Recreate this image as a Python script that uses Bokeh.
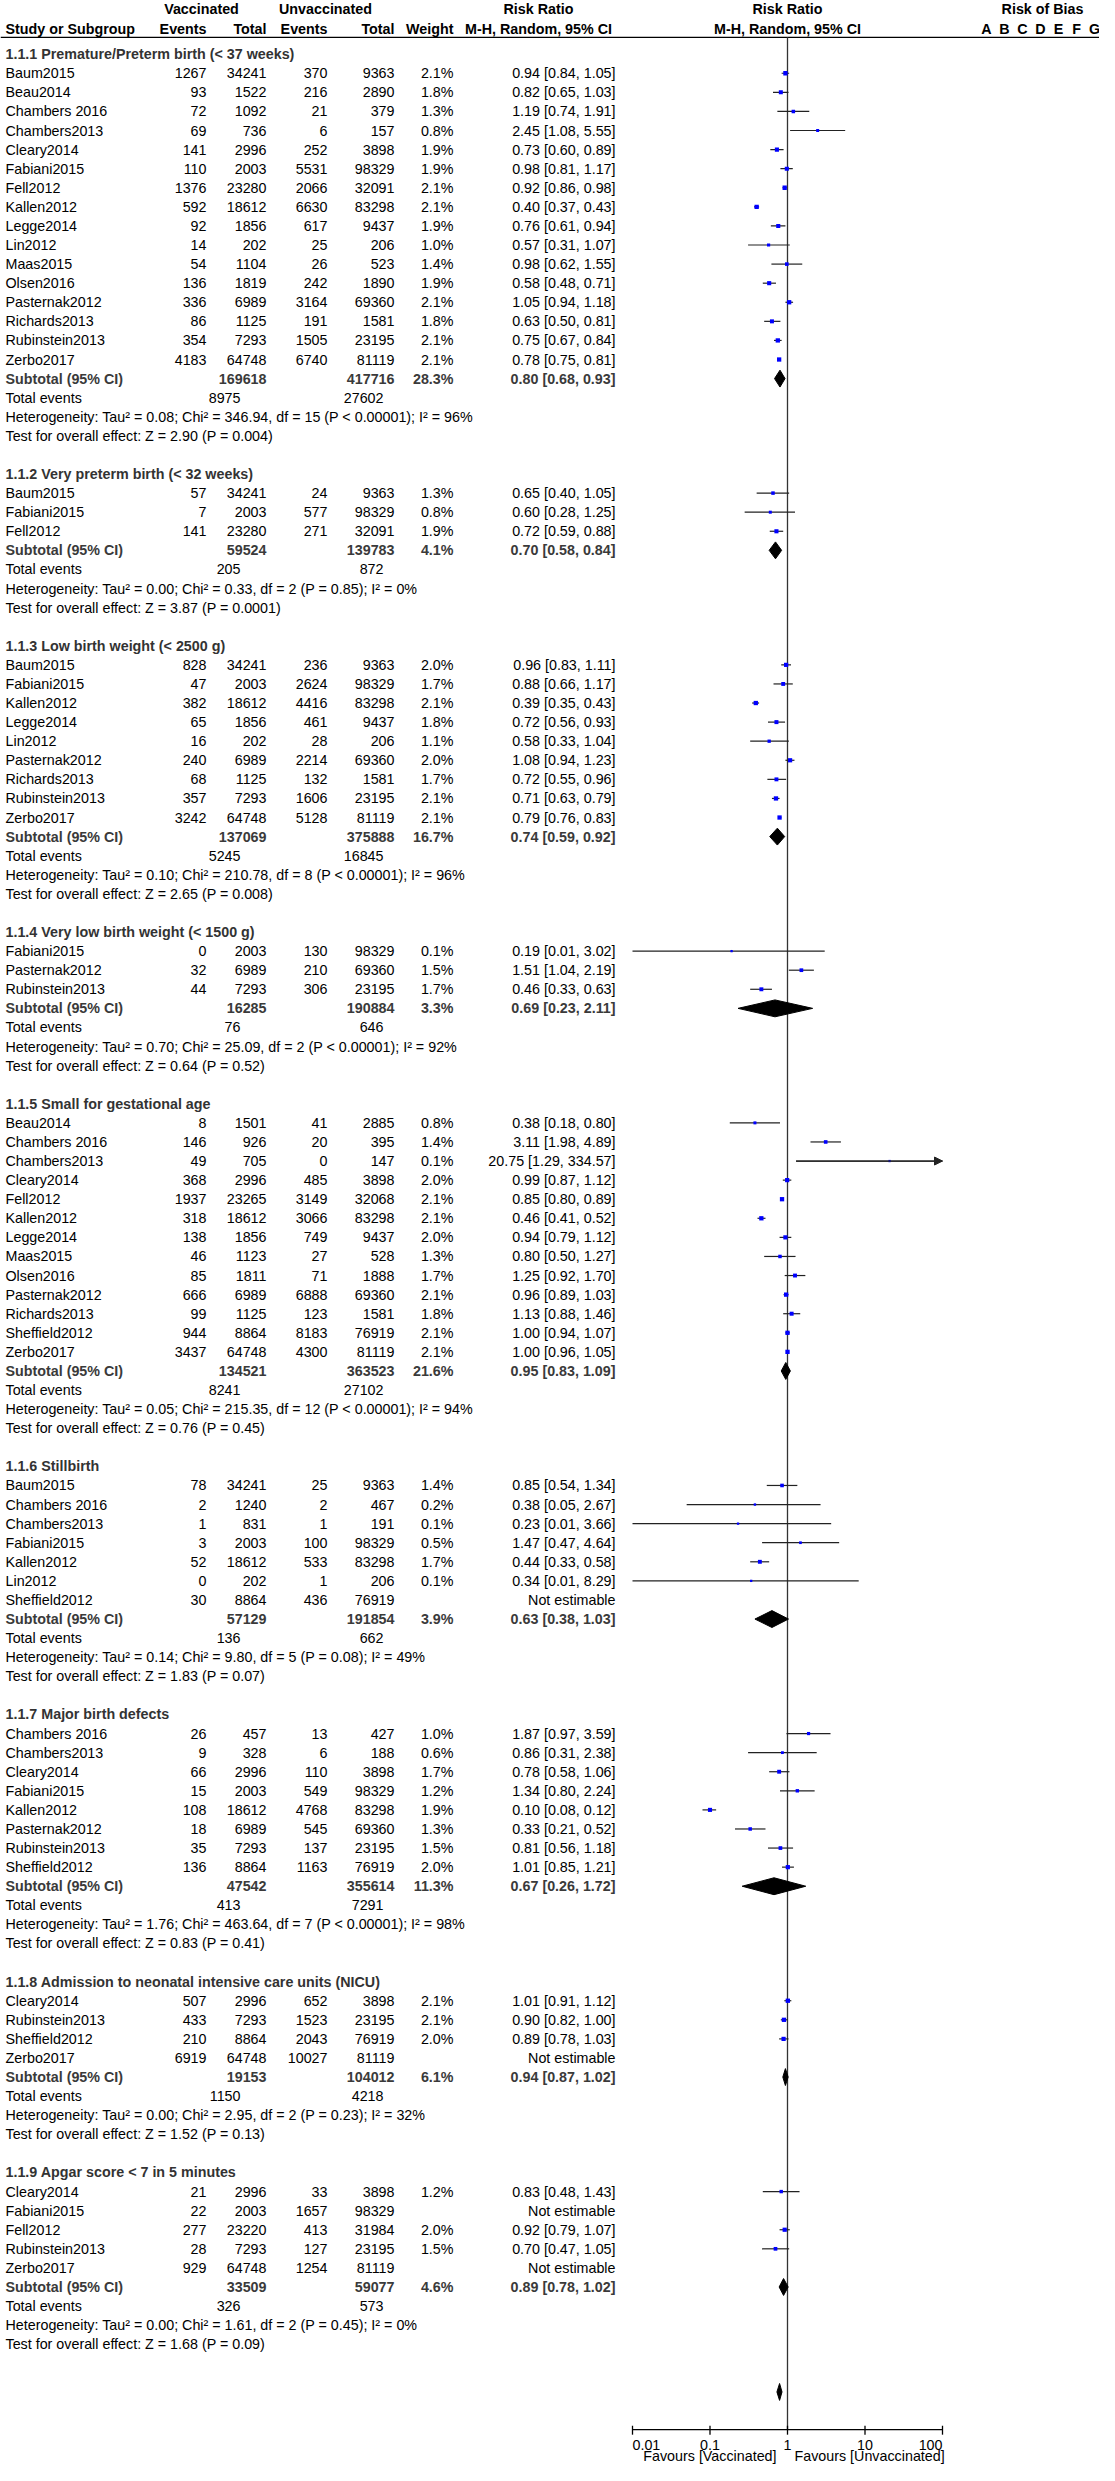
import math
from bokeh.plotting import figure
from bokeh.models import Range1d, LogScale, ColumnDataSource, Arrow, NormalHead
from bokeh.core.properties import value
from bokeh.embed import file_html
from bokeh.resources import INLINE

# ---------------------------------------------------------------- data
subgroup_titles = [
    "1.1.1 Premature/Preterm birth (< 37 weeks)",
    "1.1.2 Very preterm birth (< 32 weeks)",
    "1.1.3 Low birth weight (< 2500 g)",
    "1.1.4 Very low birth weight (< 1500 g)",
    "1.1.5 Small for gestational age",
    "1.1.6 Stillbirth",
    "1.1.7 Major birth defects",
    "1.1.8 Admission to neonatal intensive care units (NICU)",
    "1.1.9 Apgar score < 7 in 5 minutes",
]

study_group = ([0] * 16 + [1] * 3 + [2] * 9 + [3] * 3 + [4] * 13 + [5] * 7
               + [6] * 8 + [7] * 4 + [8] * 5)

study_names = [
    "Baum2015", "Beau2014", "Chambers 2016", "Chambers2013", "Cleary2014", "Fabiani2015",
    "Fell2012", "Kallen2012", "Legge2014", "Lin2012", "Maas2015", "Olsen2016",
    "Pasternak2012", "Richards2013", "Rubinstein2013", "Zerbo2017",
    "Baum2015", "Fabiani2015", "Fell2012",
    "Baum2015", "Fabiani2015", "Kallen2012", "Legge2014", "Lin2012", "Pasternak2012",
    "Richards2013", "Rubinstein2013", "Zerbo2017",
    "Fabiani2015", "Pasternak2012", "Rubinstein2013",
    "Beau2014", "Chambers 2016", "Chambers2013", "Cleary2014", "Fell2012", "Kallen2012",
    "Legge2014", "Maas2015", "Olsen2016", "Pasternak2012", "Richards2013", "Sheffield2012",
    "Zerbo2017",
    "Baum2015", "Chambers 2016", "Chambers2013", "Fabiani2015", "Kallen2012", "Lin2012",
    "Sheffield2012",
    "Chambers 2016", "Chambers2013", "Cleary2014", "Fabiani2015", "Kallen2012",
    "Pasternak2012", "Rubinstein2013", "Sheffield2012",
    "Cleary2014", "Rubinstein2013", "Sheffield2012", "Zerbo2017",
    "Cleary2014", "Fabiani2015", "Fell2012", "Rubinstein2013", "Zerbo2017",
]

events_vacc = [
    1267, 93, 72, 69, 141, 110, 1376, 592, 92, 14, 54, 136, 336, 86, 354, 4183,
    57, 7, 141,
    828, 47, 382, 65, 16, 240, 68, 357, 3242,
    0, 32, 44,
    8, 146, 49, 368, 1937, 318, 138, 46, 85, 666, 99, 944, 3437,
    78, 2, 1, 3, 52, 0, 30,
    26, 9, 66, 15, 108, 18, 35, 136,
    507, 433, 210, 6919,
    21, 22, 277, 28, 929,
]
total_vacc = [
    34241, 1522, 1092, 736, 2996, 2003, 23280, 18612, 1856, 202, 1104, 1819, 6989, 1125, 7293, 64748,
    34241, 2003, 23280,
    34241, 2003, 18612, 1856, 202, 6989, 1125, 7293, 64748,
    2003, 6989, 7293,
    1501, 926, 705, 2996, 23265, 18612, 1856, 1123, 1811, 6989, 1125, 8864, 64748,
    34241, 1240, 831, 2003, 18612, 202, 8864,
    457, 328, 2996, 2003, 18612, 6989, 7293, 8864,
    2996, 7293, 8864, 64748,
    2996, 2003, 23220, 7293, 64748,
]
events_unvacc = [
    370, 216, 21, 6, 252, 5531, 2066, 6630, 617, 25, 26, 242, 3164, 191, 1505, 6740,
    24, 577, 271,
    236, 2624, 4416, 461, 28, 2214, 132, 1606, 5128,
    130, 210, 306,
    41, 20, 0, 485, 3149, 3066, 749, 27, 71, 6888, 123, 8183, 4300,
    25, 2, 1, 100, 533, 1, 436,
    13, 6, 110, 549, 4768, 545, 137, 1163,
    652, 1523, 2043, 10027,
    33, 1657, 413, 127, 1254,
]
total_unvacc = [
    9363, 2890, 379, 157, 3898, 98329, 32091, 83298, 9437, 206, 523, 1890, 69360, 1581, 23195, 81119,
    9363, 98329, 32091,
    9363, 98329, 83298, 9437, 206, 69360, 1581, 23195, 81119,
    98329, 69360, 23195,
    2885, 395, 147, 3898, 32068, 83298, 9437, 528, 1888, 69360, 1581, 76919, 81119,
    9363, 467, 191, 98329, 83298, 206, 76919,
    427, 188, 3898, 98329, 83298, 69360, 23195, 76919,
    3898, 23195, 76919, 81119,
    3898, 98329, 31984, 23195, 81119,
]
NA = None
study_weight = [
    2.1, 1.8, 1.3, 0.8, 1.9, 1.9, 2.1, 2.1, 1.9, 1.0, 1.4, 1.9, 2.1, 1.8, 2.1, 2.1,
    1.3, 0.8, 1.9,
    2.0, 1.7, 2.1, 1.8, 1.1, 2.0, 1.7, 2.1, 2.1,
    0.1, 1.5, 1.7,
    0.8, 1.4, 0.1, 2.0, 2.1, 2.1, 2.0, 1.3, 1.7, 2.1, 1.8, 2.1, 2.1,
    1.4, 0.2, 0.1, 0.5, 1.7, 0.1, NA,
    1.0, 0.6, 1.7, 1.2, 1.9, 1.3, 1.5, 2.0,
    2.1, 2.1, 2.0, NA,
    1.2, NA, 2.0, 1.5, NA,
]
study_rr = [
    0.94, 0.82, 1.19, 2.45, 0.73, 0.98, 0.92, 0.40, 0.76, 0.57, 0.98, 0.58, 1.05, 0.63, 0.75, 0.78,
    0.65, 0.60, 0.72,
    0.96, 0.88, 0.39, 0.72, 0.58, 1.08, 0.72, 0.71, 0.79,
    0.19, 1.51, 0.46,
    0.38, 3.11, 20.75, 0.99, 0.85, 0.46, 0.94, 0.80, 1.25, 0.96, 1.13, 1.00, 1.00,
    0.85, 0.38, 0.23, 1.47, 0.44, 0.34, NA,
    1.87, 0.86, 0.78, 1.34, 0.10, 0.33, 0.81, 1.01,
    1.01, 0.90, 0.89, NA,
    0.83, NA, 0.92, 0.70, NA,
]
study_lo = [
    0.84, 0.65, 0.74, 1.08, 0.60, 0.81, 0.86, 0.37, 0.61, 0.31, 0.62, 0.48, 0.94, 0.50, 0.67, 0.75,
    0.40, 0.28, 0.59,
    0.83, 0.66, 0.35, 0.56, 0.33, 0.94, 0.55, 0.63, 0.76,
    0.01, 1.04, 0.33,
    0.18, 1.98, 1.29, 0.87, 0.80, 0.41, 0.79, 0.50, 0.92, 0.89, 0.88, 0.94, 0.96,
    0.54, 0.05, 0.01, 0.47, 0.33, 0.01, NA,
    0.97, 0.31, 0.58, 0.80, 0.08, 0.21, 0.56, 0.85,
    0.91, 0.82, 0.78, NA,
    0.48, NA, 0.79, 0.47, NA,
]
study_hi = [
    1.05, 1.03, 1.91, 5.55, 0.89, 1.17, 0.98, 0.43, 0.94, 1.07, 1.55, 0.71, 1.18, 0.81, 0.84, 0.81,
    1.05, 1.25, 0.88,
    1.11, 1.17, 0.43, 0.93, 1.04, 1.23, 0.96, 0.79, 0.83,
    3.02, 2.19, 0.63,
    0.80, 4.89, 334.57, 1.12, 0.89, 0.52, 1.12, 1.27, 1.70, 1.03, 1.46, 1.07, 1.05,
    1.34, 2.67, 3.66, 4.64, 0.58, 8.29, NA,
    3.59, 2.38, 1.06, 2.24, 0.12, 0.52, 1.18, 1.21,
    1.12, 1.00, 1.03, NA,
    1.43, NA, 1.07, 1.05, NA,
]

sub_total_vacc = [169618, 59524, 137069, 16285, 134521, 57129, 47542, 19153, 33509]
sub_total_unvacc = [417716, 139783, 375888, 190884, 363523, 191854, 355614, 104012, 59077]
sub_weight = [28.3, 4.1, 16.7, 3.3, 21.6, 3.9, 11.3, 6.1, 4.6]
sub_rr = [0.80, 0.70, 0.74, 0.69, 0.95, 0.63, 0.67, 0.94, 0.89]
sub_lo = [0.68, 0.58, 0.59, 0.23, 0.83, 0.38, 0.26, 0.87, 0.78]
sub_hi = [0.93, 0.84, 0.92, 2.11, 1.09, 1.03, 1.72, 1.02, 1.02]
sub_events_vacc = [8975, 205, 5245, 76, 8241, 136, 413, 1150, 326]
sub_events_unvacc = [27602, 872, 16845, 646, 27102, 662, 7291, 4218, 573]
het_tau2 = [0.08, 0.00, 0.10, 0.70, 0.05, 0.14, 1.76, 0.00, 0.00]
het_chi2 = [346.94, 0.33, 210.78, 25.09, 215.35, 9.80, 463.64, 2.95, 1.61]
het_df = [15, 2, 8, 2, 12, 5, 7, 2, 2]
het_p = ["< 0.00001", "= 0.85", "< 0.00001", "< 0.00001", "< 0.00001", "= 0.08",
         "< 0.00001", "= 0.23", "= 0.45"]
het_i2 = [96, 0, 96, 92, 94, 49, 98, 32, 0]
test_z = [2.90, 3.87, 2.65, 0.64, 0.76, 1.83, 0.83, 1.52, 1.68]
test_p = ["0.004", "0.0001", "0.008", "0.52", "0.45", "0.07", "0.41", "0.13", "0.09"]

overall_rr, overall_lo, overall_hi = 0.79, 0.73, 0.85

tick_values = [0.01, 0.1, 1, 10, 100]
tick_labels = ["0.01", "0.1", "1", "10", "100"]
bias_letters = ["A", "B", "C", "D", "E", "F", "G"]

# ---------------------------------------------------------------- layout
W, H = 1099, 2465
FONT = "Liberation Sans"
FS = 14.3           # body font size
ROW = 19.2          # px per row
Y0 = 52.0           # px of first row (title 1.1.1) in the reference page
X_ONE = 795.0       # page x of RR = 1
DEC = 77.5          # px per decade


def r(px):  # reference page px -> row units
    return (px - Y0) / ROW


COL = dict(name=13, ev_v=214, tot_v=274, ev_u=335, tot_u=402, weight=461, rr=623,
           te_v=248, te_u=391)
TITLE_COLOR = "#333333"
SUB_COLOR = "#3a3a3a"

p = figure(width=W, height=H, output_backend="svg", toolbar_location=None,
           x_axis_type=None, y_axis_type=None, min_border=0,
           x_range=Range1d(8, 8 + W), y_range=Range1d(r(2478), r(-2)))
p.grid.visible = False
p.outline_line_color = None
p.background_fill_color = "white"
p.border_fill_color = "white"
p.extra_x_ranges = {"rr": Range1d(10 ** ((8 - X_ONE) / DEC), 10 ** ((8 + W - X_ONE) / DEC))}
p.extra_x_scales = {"rr": LogScale()}


def txt(xs, ys, texts, align="left", bold=False, color="#000000", size=FS, rng=None, xoff=0):
    src = ColumnDataSource(dict(x=list(xs), y=list(ys), t=list(texts)))
    kw = {}
    if rng:
        kw["x_range_name"] = rng
    p.text(x="x", y="y", text="t", source=src, text_align=align, text_baseline="middle",
           text_font=value(FONT), text_font_size=f"{size}px",
           text_font_style="bold" if bold else "normal", text_color=color,
           x_offset=xoff, **kw)


# header
y_h1, y_h2, y_line = r(7), r(27), r(35)
txt([209, 333], [y_h1, y_h1], ["Vaccinated", "Unvaccinated"], align="center", bold=True)
txt([546], [y_h1], ["Risk Ratio"], align="center", bold=True)
txt([COL["name"]], [y_h2], ["Study or Subgroup"], bold=True)
txt([COL["ev_v"], COL["tot_v"], COL["ev_u"], COL["tot_u"], COL["weight"]], [y_h2] * 5,
    ["Events", "Total", "Events", "Total", "Weight"], align="right", bold=True)
txt([546], [y_h2], ["M-H, Random, 95% CI"], align="center", bold=True)
txt([1], [y_h1], ["Risk Ratio"], align="center", bold=True, rng="rr")
txt([1], [y_h2], ["M-H, Random, 95% CI"], align="center", bold=True, rng="rr")
txt([1050], [y_h1], ["Risk of Bias"], align="center", bold=True)
txt([994 + 18.0 * i for i in range(len(bias_letters))], [y_h2] * len(bias_letters),
    bias_letters, align="center", bold=True)
p.segment(x0=[8], x1=[8 + W], y0=[y_line], y1=[y_line], line_color="#000000", line_width=1.2)

# rows
row_y = []
title_y, sub_y, te_y, het_y, test_y = [], [], [], [], []
cur = 0.0
for g in range(len(subgroup_titles)):
    n = study_group.count(g)
    title_y.append(cur)
    row_y.extend([cur + 1 + i for i in range(n)])
    sub_y.append(cur + n + 1)
    te_y.append(cur + n + 2)
    het_y.append(cur + n + 3)
    test_y.append(cur + n + 4)
    cur += n + 6

txt([COL["name"]] * len(title_y), title_y, subgroup_titles, bold=True, color=TITLE_COLOR)
txt([COL["name"]] * len(row_y), row_y, study_names)
txt([COL["ev_v"]] * len(row_y), row_y, [str(v) for v in events_vacc], align="right")
txt([COL["tot_v"]] * len(row_y), row_y, [str(v) for v in total_vacc], align="right")
txt([COL["ev_u"]] * len(row_y), row_y, [str(v) for v in events_unvacc], align="right")
txt([COL["tot_u"]] * len(row_y), row_y, [str(v) for v in total_unvacc], align="right")
wy = [y for y, w in zip(row_y, study_weight) if w is not None]
txt([COL["weight"]] * len(wy), wy,
    [f"{w:.1f}%" for w in study_weight if w is not None], align="right")
rr_text = [("Not estimable" if v is None else f"{v:.2f} [{a:.2f}, {b:.2f}]")
           for v, a, b in zip(study_rr, study_lo, study_hi)]
txt([COL["rr"]] * len(row_y), row_y, rr_text, align="right")

# subtotal rows
txt([COL["name"]] * len(sub_y), sub_y, ["Subtotal (95% CI)"] * len(sub_y), bold=True, color=SUB_COLOR)
txt([COL["tot_v"]] * len(sub_y), sub_y, [str(v) for v in sub_total_vacc], align="right", bold=True, color=SUB_COLOR)
txt([COL["tot_u"]] * len(sub_y), sub_y, [str(v) for v in sub_total_unvacc], align="right", bold=True, color=SUB_COLOR)
txt([COL["weight"]] * len(sub_y), sub_y, [f"{w:.1f}%" for w in sub_weight], align="right", bold=True, color=SUB_COLOR)
txt([COL["rr"]] * len(sub_y), sub_y,
    [f"{v:.2f} [{a:.2f}, {b:.2f}]" for v, a, b in zip(sub_rr, sub_lo, sub_hi)],
    align="right", bold=True, color=SUB_COLOR)

txt([COL["name"]] * len(te_y), te_y, ["Total events"] * len(te_y))
txt([COL["te_v"]] * len(te_y), te_y, [str(v) for v in sub_events_vacc], align="right")
txt([COL["te_u"]] * len(te_y), te_y, [str(v) for v in sub_events_unvacc], align="right")
het_text = [f"Heterogeneity: Tau\u00b2 = {t:.2f}; Chi\u00b2 = {c:.2f}, df = {d} (P {pp}); I\u00b2 = {i}%"
            for t, c, d, pp, i in zip(het_tau2, het_chi2, het_df, het_p, het_i2)]
txt([COL["name"]] * len(het_y), het_y, het_text)
test_text = [f"Test for overall effect: Z = {z:.2f} (P = {pp})" for z, pp in zip(test_z, test_p)]
txt([COL["name"]] * len(test_y), test_y, test_text)

# ---------------------------------------------------------------- forest plot
y_axis = r(2442)
y_overall = r(2404)
p.segment(x0=[1], x1=[1], y0=[y_line], y1=[y_axis], x_range_name="rr",
          line_color="#333333", line_width=1.3)

ci_x0, ci_x1, ci_y, arrow_rows = [], [], [], []
for y, v, a, b in zip(row_y, study_rr, study_lo, study_hi):
    if v is None:
        continue
    lo_c = max(a, tick_values[0])
    hi_c = min(b, tick_values[-1])
    ci_x0.append(lo_c)
    ci_x1.append(hi_c)
    ci_y.append(y)
    if b > tick_values[-1]:
        arrow_rows.append((lo_c, hi_c, y))
p.segment(x0=ci_x0, x1=ci_x1, y0=ci_y, y1=ci_y, x_range_name="rr",
          line_color="#222222", line_width=1.2)
for lo_c, hi_c, y in arrow_rows:
    p.add_layout(Arrow(end=NormalHead(size=8, fill_color="#222222", line_color="#222222"),
                       x_start=lo_c, y_start=y, x_end=hi_c, y_end=y, x_range_name="rr",
                       line_color="#222222", line_width=1.2))

mk = [(v, y, w) for v, y, w in zip(study_rr, row_y, study_weight) if v is not None]
p.scatter(x=[m[0] for m in mk], y=[m[1] for m in mk],
          size=[2.2 + 1.0 * m[2] for m in mk], marker="square",
          fill_color="#0000ff", line_color=None, x_range_name="rr")

DH = 8.5 / ROW
dxs = [[a, v, b, v] for v, a, b in zip(sub_rr, sub_lo, sub_hi)]
dys = [[y, y - DH, y, y + DH] for y in sub_y]
dxs.append([overall_lo, overall_rr, overall_hi, overall_rr])
dys.append([y_overall, y_overall - DH, y_overall, y_overall + DH])
p.patches(xs=dxs, ys=dys, x_range_name="rr", fill_color="#000000", line_color="#000000")

# axis
p.segment(x0=[tick_values[0]], x1=[tick_values[-1]], y0=[y_axis], y1=[y_axis],
          x_range_name="rr", line_color="#000000", line_width=1.3)
p.segment(x0=tick_values, x1=tick_values, y0=[y_axis - 4 / ROW] * 5, y1=[y_axis + 5 / ROW] * 5,
          x_range_name="rr", line_color="#000000", line_width=1.3)
y_tl = r(2457)
txt([tick_values[0]], [y_tl], [tick_labels[0]], align="left", rng="rr")
txt(tick_values[1:-1], [y_tl] * 3, tick_labels[1:-1], align="center", rng="rr")
txt([tick_values[-1]], [y_tl], [tick_labels[-1]], align="right", rng="rr")
y_fav = r(2468)
txt([1], [y_fav], ["Favours [Vaccinated]"], align="right", rng="rr", xoff=-11)
txt([1], [y_fav], ["Favours [Unvaccinated]"], align="left", rng="rr", xoff=7)

open("out.html", "w").write(file_html(p, INLINE))
